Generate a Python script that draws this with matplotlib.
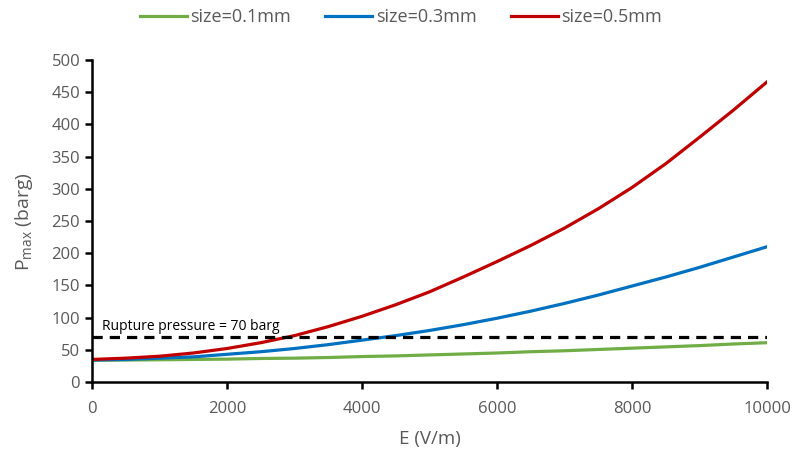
import numpy as np
import matplotlib.pyplot as plt

e_field = [0, 500, 1000, 1500, 2000, 2500, 3000, 3500, 4000, 4500, 5000,
           5500, 6000, 6500, 7000, 7500, 8000, 8500, 9000, 9500, 10000]
p_01mm = [34, 34, 34.5, 35, 35.5, 36.5, 37, 38, 39.5, 40.5, 42,
          43.5, 45, 47, 48.5, 50.5, 52.5, 54.5, 56.5, 59, 61]
p_03mm = [34, 35, 37, 39, 43, 47, 52, 58, 65, 72, 80,
          89, 99, 110, 122, 135, 149, 163, 178, 194, 210]
p_05mm = [35, 37, 40, 45, 52, 61, 72, 86, 102, 120, 140,
          163, 187, 212, 239, 269, 302, 339, 380, 422, 466]
rupture = 70

plt.rcParams['font.family'] = ['Open Sans', 'DejaVu Sans']

fig = plt.figure(figsize=(7.94, 4.61), dpi=100)
ax = fig.add_axes([0.1159, 0.1714, 0.8501, 0.6984])

ax.plot(e_field, p_01mm, color='#70ad47', lw=2.3, label='size=0.1mm')
ax.plot(e_field, p_03mm, color='#0070c0', lw=2.3, label='size=0.3mm')
ax.plot(e_field, p_05mm, color='#c00000', lw=2.3, label='size=0.5mm')
ax.plot([e_field[0], e_field[-1]], [rupture, rupture], color='black', lw=2.3,
        ls=(0, (3.2, 2.2)))
ax.text(150, 80, 'Rupture pressure = 70 barg', fontsize=10, color='black')

ax.set_xlim(0, 10000)
ax.set_ylim(0, 500)
ax.set_xticks(np.arange(0, 10001, 2000))
ax.set_yticks(np.arange(0, 501, 50))
ax.spines['top'].set_visible(False)
ax.spines['right'].set_visible(False)
ax.spines['left'].set_linewidth(1.8)
ax.spines['bottom'].set_linewidth(1.8)
ax.tick_params(axis='both', direction='out', length=5, width=1.8,
               labelsize=12, labelcolor='#595959', color='black')
ax.tick_params(axis='x', pad=9)
ax.set_xlabel('E (V/m)', fontsize=13.5, color='#595959', labelpad=9)
ax.set_ylabel(r'P$_{\mathregular{max}}$ (barg)', fontsize=14, color='#595959', labelpad=12)

fig.legend(loc='upper center', bbox_to_anchor=(0.505, 1.018), ncol=3, frameon=False,
           fontsize=13, handlelength=2.6, handletextpad=0.2, columnspacing=1.9,
           labelcolor='#595959')

fig.savefig('out.png', dpi=100)
